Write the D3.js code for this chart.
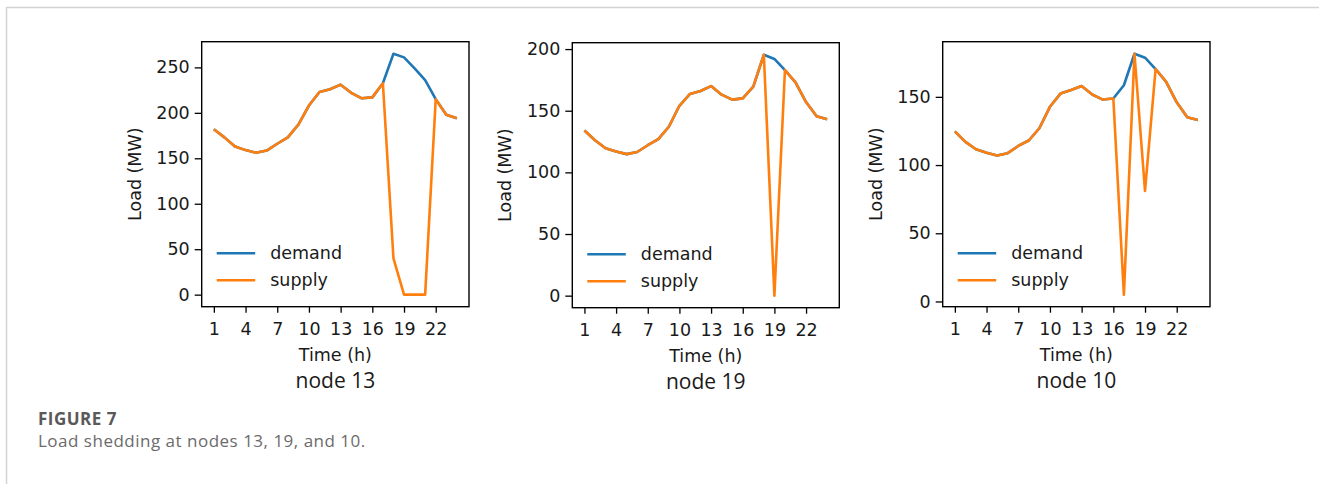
<!DOCTYPE html>
<html>
<head>
<meta charset="utf-8">
<script src="https://d3js.org/d3.v7.min.js"></script>
<style>
    html, body { margin: 0; padding: 0; background: #fff; }
    svg { display: block; }
    .tick text { font-family: "DejaVu Sans", sans-serif; font-size: 17.5px; fill: #1a1a1a; }
</style>
</head>
<body>
<svg id="chart" width="1319" height="484"></svg>
<script>
var hours = d3.range(1, 25);
var xTicks = [1, 4, 7, 10, 13, 16, 19, 22];

var node13Demand = [182, 173, 163, 159, 156, 158.5, 166, 173, 187, 208, 223, 226, 231, 222, 216, 217, 232.5, 265, 261, 249, 236, 215, 198, 194];
var node13Supply = [182, 173, 163, 159, 156, 158.5, 166, 173, 187, 208, 223, 226, 231, 222, 216, 217, 232.5, 40, 0, 0, 0, 215, 198, 194];
var node13YTicks = [0, 50, 100, 150, 200, 250];

var node19Demand = [134, 126, 119.5, 117, 114.8, 116.5, 122, 127, 137, 154, 163.6, 166, 170, 163, 159, 160, 169.5, 195.4, 192, 183, 173, 157, 145.5, 143];
var node19Supply = [134, 126, 119.5, 117, 114.8, 116.5, 122, 127, 137, 154, 163.6, 166, 170, 163, 159, 160, 169.5, 195.4, 0, 183, 173, 157, 145.5, 143];
var node19YTicks = [0, 50, 100, 150, 200];

var node10Demand = [124.7, 117, 111.6, 109, 107, 108.7, 114, 118, 127, 142.7, 152.4, 155, 158, 151.7, 148, 148.8, 158.5, 181.6, 178.7, 170.4, 161, 146, 135, 133];
var node10Supply = [124.7, 117, 111.6, 109, 107, 108.7, 114, 118, 127, 142.7, 152.4, 155, 158, 151.7, 148, 148.8, 5, 181.6, 81, 170.4, 161, 146, 135, 133];
var node10YTicks = [0, 50, 100, 150];

var seriesNames = ['demand', 'supply'];
var seriesColors = ['#1f77b4', '#ff7f0e'];

var panels = [
    { title: 'node 13', demand: node13Demand, supply: node13Supply, yTicks: node13YTicks, left: 201.7, top: 41.7, width: 267.3, height: 265 },
    { title: 'node 19', demand: node19Demand, supply: node19Supply, yTicks: node19YTicks, left: 572.3, top: 42.7, width: 267, height: 265 },
    { title: 'node 10', demand: node10Demand, supply: node10Supply, yTicks: node10YTicks, left: 942.7, top: 41.7, width: 267.3, height: 265 }
];

var svg = d3.select('#chart');

// page frame (light rule on top and left)
svg.append('path')
    .attr('d', 'M6.5,484 L6.5,7.5 L1319,7.5')
    .attr('fill', 'none')
    .attr('stroke', '#d3d3d3')
    .attr('stroke-width', 1.5);

// matplotlib style autoscale: 5% margins
function padded(lo, hi) {
    var m = (hi - lo) * 0.05;
    return [lo - m, hi + m];
}

function drawPanel(p) {
    var g = svg.append('g').attr('transform', 'translate(' + p.left + ',' + p.top + ')');
    var all = p.demand.concat(p.supply);

    var x = d3.scaleLinear()
        .domain(padded(d3.min(hours), d3.max(hours)))
        .range([0, p.width]);
    var y = d3.scaleLinear()
        .domain(padded(d3.min(all), d3.max(all)))
        .range([p.height, 0]);

    var xAxis = g.append('g')
        .attr('transform', 'translate(0,' + p.height + ')')
        .call(d3.axisBottom(x).tickValues(xTicks).tickSize(6).tickSizeOuter(0).tickPadding(10));
    var yAxis = g.append('g')
        .call(d3.axisLeft(y).tickValues(p.yTicks).tickSize(7).tickSizeOuter(0).tickPadding(5));
    [xAxis, yAxis].forEach(function(a) {
        a.select('.domain').remove();
        a.selectAll('.tick line').attr('stroke', '#000').attr('stroke-width', 1.3);
    });

    var line = d3.line()
        .x(function(d, i) { return x(hours[i]); })
        .y(function(d) { return y(d); });

    [p.demand, p.supply].forEach(function(s, i) {
        g.append('path')
            .datum(s)
            .attr('d', line)
            .attr('fill', 'none')
            .attr('stroke', seriesColors[i])
            .attr('stroke-width', 2.6)
            .attr('stroke-linejoin', 'round');
    });

    g.append('rect')
        .attr('width', p.width)
        .attr('height', p.height)
        .attr('fill', 'none')
        .attr('stroke', '#000')
        .attr('stroke-width', 1.4);

    // legend, lower left
    var legend = g.append('g')
        .attr('transform', 'translate(15,' + (p.height - 53.5) + ')');
    seriesNames.forEach(function(name, i) {
        var row = legend.append('g').attr('transform', 'translate(0,' + (i * 27) + ')');
        row.append('line')
            .attr('x1', 0).attr('x2', 38.5)
            .attr('stroke', seriesColors[i])
            .attr('stroke-width', 2.6);
        row.append('text')
            .attr('x', 53.5)
            .attr('dy', '0.35em')
            .attr('font-family', 'DejaVu Sans, sans-serif')
            .attr('font-size', '17.5px')
            .attr('fill', '#1a1a1a')
            .text(name);
    });

    g.append('text')
        .attr('x', p.width / 2)
        .attr('y', p.height + 54.5)
        .attr('text-anchor', 'middle')
        .attr('font-family', 'DejaVu Sans, sans-serif')
        .attr('font-size', '17.5px')
        .attr('fill', '#1a1a1a')
        .text('Time (h)');

    g.append('text')
        .attr('transform', 'translate(-61,' + (p.height / 2) + ') rotate(-90)')
        .attr('text-anchor', 'middle')
        .attr('font-family', 'DejaVu Sans, sans-serif')
        .attr('font-size', '17.5px')
        .attr('fill', '#1a1a1a')
        .text('Load (MW)');

    g.append('text')
        .attr('x', p.width / 2)
        .attr('y', p.height + 81)
        .attr('text-anchor', 'middle')
        .attr('font-family', 'Open Sans, sans-serif')
        .attr('font-size', '21px')
        .attr('fill', '#1a1a1a')
        .text(p.title);
}

panels.forEach(drawPanel);

svg.append('text')
    .attr('x', 38)
    .attr('y', 425)
    .attr('font-family', 'Open Sans, sans-serif')
    .attr('font-weight', 'bold')
    .attr('font-size', '17px')
    .attr('letter-spacing', '0.5px')
    .attr('fill', '#595959')
    .text('FIGURE 7');

svg.append('text')
    .attr('x', 38)
    .attr('y', 447)
    .attr('font-family', 'Open Sans, sans-serif')
    .attr('font-size', '17px')
    .attr('letter-spacing', '0.5px')
    .attr('fill', '#6b6b6b')
    .text('Load shedding at nodes 13, 19, and 10.');
</script>
</body>
</html>
